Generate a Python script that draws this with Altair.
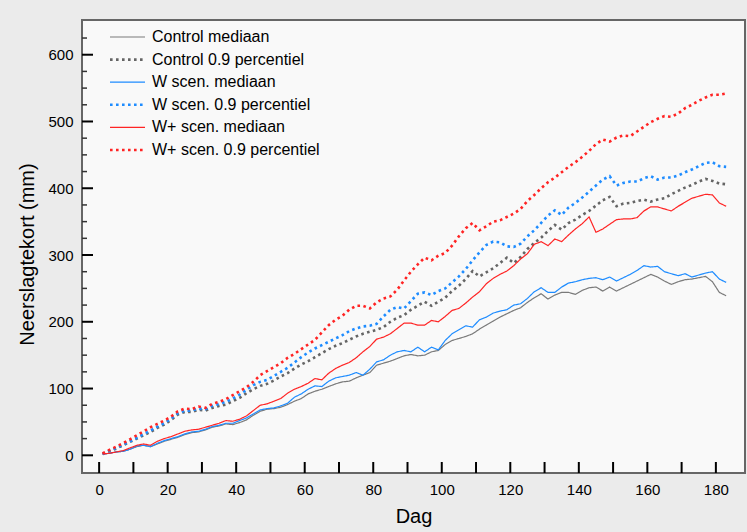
import altair as alt
import pandas as pd

# ---- data (every 2nd day) ----
days = list(range(1, 184, 2))

control_med = [2, 3, 5, 6, 9, 13, 15, 13, 17, 21, 24, 27, 31, 34, 35, 38, 42, 44, 47, 46,
               49, 53, 60, 66, 69, 70, 72, 76, 81, 85, 92, 96, 99, 103, 107, 110, 111, 116, 120, 124,
               135, 138, 141, 145, 149, 151, 149, 150, 155, 157, 166, 172, 175, 178, 182, 189, 195, 201, 207, 212,
               217, 221, 229, 236, 242, 234, 240, 244, 244, 241, 247, 251, 252, 246, 252, 246, 251, 256, 261, 266,
               271, 267, 261, 256, 260, 263, 264, 266, 268, 260, 244, 239]

control_p90 = [2, 6, 10, 15, 20, 25, 30, 35, 41, 46, 53, 61, 65, 65, 68, 67, 71, 74, 76, 81,
               86, 93, 99, 104, 107, 112, 118, 123, 130, 136, 141, 147, 153, 159, 164, 168, 173, 178, 182, 185,
               188, 192, 200, 206, 210, 218, 224, 230, 224, 230, 236, 246, 254, 264, 276, 268, 274, 280, 288, 296,
               288, 297, 309, 318, 326, 336, 345, 338, 348, 353, 360, 366, 374, 382, 387, 373, 377, 378, 381, 383,
               380, 383, 385, 391, 396, 401, 405, 410, 414, 411, 407, 406]

w_med = [2, 3, 5, 6, 9, 14, 15, 13, 18, 22, 25, 28, 32, 35, 36, 39, 43, 45, 48, 48,
         52, 56, 62, 68, 70, 71, 74, 78, 87, 92, 99, 104, 103, 111, 116, 118, 120, 124, 120, 129,
         140, 143, 150, 155, 157, 155, 162, 155, 162, 158, 172, 182, 188, 194, 192, 203, 207, 213, 216, 218,
         225, 227, 235, 245, 251, 244, 244, 252, 258, 260, 263, 265, 266, 263, 267, 261, 266, 271, 277, 284,
         282, 283, 275, 272, 269, 272, 267, 270, 273, 275, 264, 259]

w_p90 = [2, 7, 11, 16, 21, 26, 32, 37, 43, 48, 55, 63, 67, 67, 70, 69, 74, 77, 80, 85,
         91, 98, 105, 110, 113, 119, 125, 131, 139, 147, 154, 160, 165, 170, 175, 180, 186, 190, 193, 194,
         197, 208, 218, 222, 220, 231, 242, 244, 240, 246, 250, 259, 268, 279, 292, 304, 315, 320, 319, 313,
         312, 317, 328, 337, 348, 359, 367, 360, 371, 378, 386, 395, 404, 413, 418, 404, 408, 410, 410, 415,
         418, 413, 416, 416, 419, 424, 428, 433, 438, 439, 433, 432]

wplus_med = [2, 3, 5, 7, 11, 15, 17, 15, 21, 25, 28, 32, 36, 38, 39, 42, 45, 48, 52, 51,
             54, 59, 67, 75, 77, 81, 85, 93, 99, 103, 108, 115, 113, 123, 130, 135, 139, 146, 155, 163,
             174, 177, 182, 190, 198, 198, 195, 195, 202, 200, 208, 217, 220, 228, 237, 245, 257, 265, 271, 276,
             284, 294, 302, 316, 320, 314, 324, 320, 330, 339, 347, 357, 334, 339, 346, 353, 354, 354, 356, 366,
             372, 372, 369, 366, 373, 379, 385, 388, 391, 390, 378, 373]

wplus_p90 = [3, 8, 13, 18, 24, 30, 36, 42, 47, 52, 58, 66, 70, 69, 73, 71, 77, 80, 84, 90,
             96, 102, 110, 120, 126, 132, 138, 146, 152, 159, 166, 173, 184, 195, 203, 209, 218, 224, 224, 220,
             229, 235, 238, 248, 262, 275, 286, 296, 292, 299, 303, 314, 328, 340, 348, 337, 343, 350, 352, 357,
             362, 369, 381, 390, 400, 409, 416, 424, 432, 439, 447, 456, 466, 473, 470, 476, 479, 478, 485, 492,
             499, 504, 508, 507, 512, 520, 525, 531, 536, 540, 540, 542]

series_names = ["Control mediaan", "Control 0.9 percentiel",
                "W scen. mediaan", "W scen. 0.9 percentiel",
                "W+ scen. mediaan", "W+ scen. 0.9 percentiel"]
series_values = [control_med, control_p90, w_med, w_p90, wplus_med, wplus_p90]

x_tick_values = list(range(0, 181, 10))
y_major_values = list(range(0, 601, 100))
y_minor_values = [v for v in range(25, 626, 25) if v % 100 != 0]

# ---- styling ----
series_colors = ["#7a7a7a", "#656565", "#1E8CFF", "#1E8CFF", "#FF2424", "#FF2424"]
series_dashes = [[1, 0], [2.6, 3.4], [1, 0], [2.6, 3.4], [1, 0], [2.6, 3.4]]
series_widths = [1.2, 2.6, 1.2, 2.6, 1.2, 2.6]
FONT = "Liberation Sans"

rows = []
for name, vals in zip(series_names, series_values):
    for d, v in zip(days, vals):
        rows.append({"day": d, "value": v, "series": name})
df = pd.DataFrame(rows)

xscale = alt.Scale(domain=[-5, 188.5], nice=False, zero=False)
yscale = alt.Scale(domain=[-26.5, 652], nice=False, zero=False)

# custom stroke symbol: 35 px long line at symbolSize 100 (path scaled by 5)
legend_kw = dict(title=None, orient="none", legendX=37.5, legendY=9,
                 symbolType="M-3.5,0H3.5", symbolSize=100, symbolStrokeWidth=1.6,
                 labelFontSize=16, labelFont=FONT, labelColor="#000000", labelLimit=400,
                 labelOffset=16.5, rowPadding=6.6, padding=0)

lines = alt.Chart(df).mark_line(clip=True).encode(
    x=alt.X("day:Q", scale=xscale,
            axis=alt.Axis(title="Dag", values=x_tick_values, ticks=False, domain=False, grid=False,
                          labelFontSize=15, labelFont=FONT, labelColor="#000000", labelPadding=9,
                          titleFontSize=20, titleFont=FONT, titleFontWeight="normal",
                          titleColor="#000000", titlePadding=9)),
    y=alt.Y("value:Q", scale=yscale,
            axis=alt.Axis(title="Neerslagtekort (mm)", values=y_major_values, ticks=False,
                          domain=False, grid=False,
                          labelFontSize=15, labelFont=FONT, labelColor="#000000", labelPadding=9,
                          titleFontSize=20, titleFont=FONT, titleFontWeight="normal",
                          titleColor="#000000", titleX=-55, titleY=234, titleAngle=270,
                          titleAlign="center", titleBaseline="middle")),
    color=alt.Color("series:N", scale=alt.Scale(domain=series_names, range=series_colors),
                    legend=alt.Legend(**legend_kw)),
    strokeDash=alt.StrokeDash("series:N", scale=alt.Scale(domain=series_names, range=series_dashes),
                              legend=alt.Legend(**legend_kw)),
    strokeWidth=alt.StrokeWidth("series:N",
                                scale=alt.Scale(type="ordinal", domain=series_names, range=series_widths),
                                legend=None),
)

x_ticks = alt.Chart(pd.DataFrame({"day": x_tick_values})).mark_rule(
    color="#000000", strokeWidth=2).encode(
    x=alt.X("day:Q", scale=xscale), y=alt.value(442), y2=alt.value(453))

y_major = alt.Chart(pd.DataFrame({"value": y_major_values})).mark_rule(
    color="#000000", strokeWidth=2).encode(
    y=alt.Y("value:Q", scale=yscale), x=alt.value(0), x2=alt.value(11))

y_minor = alt.Chart(pd.DataFrame({"value": y_minor_values})).mark_rule(
    color="#333333", strokeWidth=1.5).encode(
    y=alt.Y("value:Q", scale=yscale), x=alt.value(0), x2=alt.value(5))

chart = alt.layer(lines, x_ticks, y_major, y_minor).properties(
    width=663, height=453,
    padding={"left": 82, "top": 20, "right": 2, "bottom": 59},
    autosize=alt.AutoSizeParams(type="none"),
    background="#ebebeb",
).configure_view(
    fill="#f9f9f9", stroke="#666666", strokeWidth=2
)

chart.save("out.html", embed_options={"renderer": "svg", "actions": False})
